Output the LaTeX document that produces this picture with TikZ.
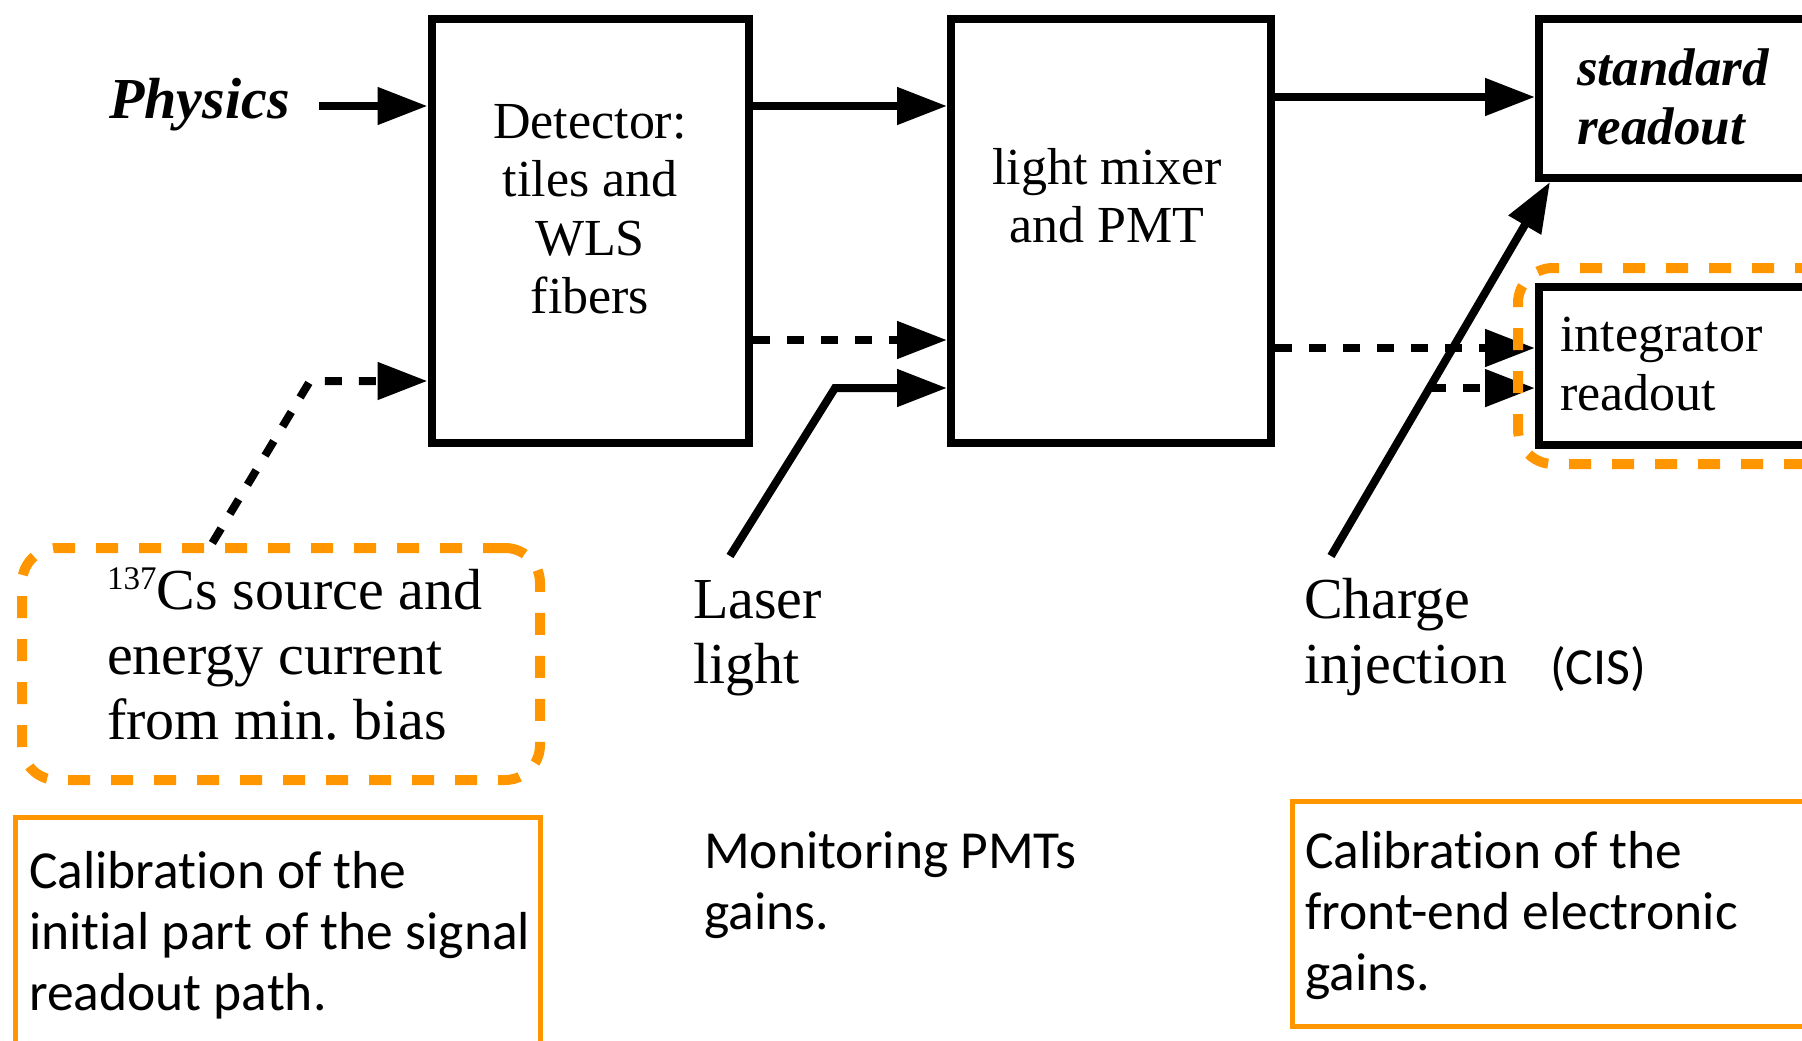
\documentclass[tikz,border=0pt]{standalone}
\usepackage{fontspec}
\setmainfont{Liberation Serif}
\newfontfamily\gillfont[Ligatures={NoCommon,NoContextual}]{Carlito}
\usetikzlibrary{arrows.meta,calc,fit,positioning}
\definecolor{calorange}{RGB}{255,150,0}
\frenchspacing

\begin{document}
\begin{tikzpicture}[x=1pt,y=-1pt,
		blk/.style={draw,line width=8pt,inner sep=0pt},
		sig/.style={line width=8pt,-{Triangle[length=50pt,width=36pt]}},
		dsh/.style={dash pattern=on 17pt off 17pt},
		txt/.style={inner sep=0pt,font=\fontsize{52}{58.5}\selectfont},
		lab/.style={inner sep=0pt,align=left,font=\fontsize{58}{65}\selectfont},
		note/.style={inner sep=0pt,align=left,font=\gillfont\fontsize{53.5}{61}\selectfont},
		calbox/.style={draw=calorange,line width=5pt},
		calring/.style={draw=calorange,line width=10pt,dash pattern=on 22pt off 21pt,rounded corners=35pt}]
		\clip (0,0) rectangle (1802,1041);
		%
		\node[blk,minimum width=317pt,minimum height=424pt] (det) at (590,231) {};
		\node[blk,minimum width=320pt,minimum height=424pt] (pmt) at (1111,231) {};
		\node[blk,minimum width=292pt,minimum height=159pt] (std) at (1685,98.5) {};
		\node[blk,minimum width=292pt,minimum height=158pt] (integ) at (1685,366) {};
		\node[txt,align=center,anchor=north] (dettxt) at (590,104) {Detector:\\tiles and\\WLS\\fibers};
		\node[txt,align=center,anchor=north] (pmttxt) at (1107,148) {light mixer\\and PMT};
		\node[txt,align=left,anchor=north west,font=\fontsize{53}{59}\selectfont\bfseries\itshape] (stdtxt) at (1577,49) {standard\\readout};
		\node[txt,align=left,anchor=north west] (integtxt) at (1560,317) {integrator\\readout};
		\node[inner sep=0pt,anchor=base west,font=\fontsize{58}{65}\selectfont\bfseries\itshape] (phys) at (109,118) {Physics};
		%
		\node[calring,minimum width=518pt,minimum height=232pt] (csbox) at (281,664) {};
		\node[lab,anchor=north west] (cstxt) at (107,567) {\raisebox{0.36em}{\fontsize{33}{33}\selectfont 137}Cs source and\\energy current\\from min. bias};
		\node[lab,anchor=north west] (laser) at (693,580) {Laser\\light};
		\node[lab,anchor=north west] (charge) at (1304,578) {Charge\\injection};
		\node[inner sep=0pt,anchor=base west,font=\gillfont\fontsize{52}{52}\selectfont] (cis) at (1550,684) {(CIS)};
		%
		\node[calbox,minimum width=525pt,minimum height=245pt] (leftnote) at (277.5,940) {};
		\node[note,anchor=north west] (leftnotetxt) at (29,851) {Calibration of the\\initial part of the signal\\readout path.};
		\node[note,anchor=north west] (midnote) at (704,831) {Monitoring PMTs\\gains.};
		\node[calbox,minimum width=538pt,minimum height=225pt] (rightnote) at (1561,913.5) {};
		\node[note,anchor=north west] (rightnotetxt) at (1305,831) {Calibration of the\\front-end electronic\\gains.};
		%
		\coordinate (rowA) at (0,106);
		\coordinate (rowB) at (0,97);
		\coordinate (rowC) at (0,340);
		\coordinate (rowD) at (0,348);
		\coordinate (csbend) at (310,381);
		\coordinate (cstop) at ($(csbox.north west)!0.37!(csbox.north east)$);
		\coordinate (lasend) at (730,556);
		\coordinate (lasbend) at (835,388);
		\coordinate (cibot) at (1331,556);
		\coordinate (citop) at ($(std.south west)+(15,0)$);
		\coordinate (cibranch) at ($(cibot)!0.449!(citop)$);
		%
		\draw[sig,shorten <=29pt] (phys.east |- rowA) -- (det.west |- rowA);
		\draw[sig] (det.east |- rowA) -- (pmt.west |- rowA);
		\draw[sig] (pmt.east |- rowB) -- (std.west |- rowB);
		\draw[sig,dsh] (det.east |- rowC) -- (pmt.west |- rowC);
		\draw[sig,dsh] (pmt.east |- rowD) -- (integ.west |- rowD);
		\draw[sig,dsh] (cstop) -- (csbend) -- (csbend -| det.west);
		\draw[sig] (lasend) -- (lasbend) -- (lasbend -| pmt.west);
		\draw[sig] (cibot) -- (citop);
		\draw[sig,dsh] (cibranch) -- (cibranch -| integ.west);
		%
		\node[calring,fit=(integ),inner xsep=17pt,inner ysep=15pt] (integring) {};
	\end{tikzpicture}
\end{document}
